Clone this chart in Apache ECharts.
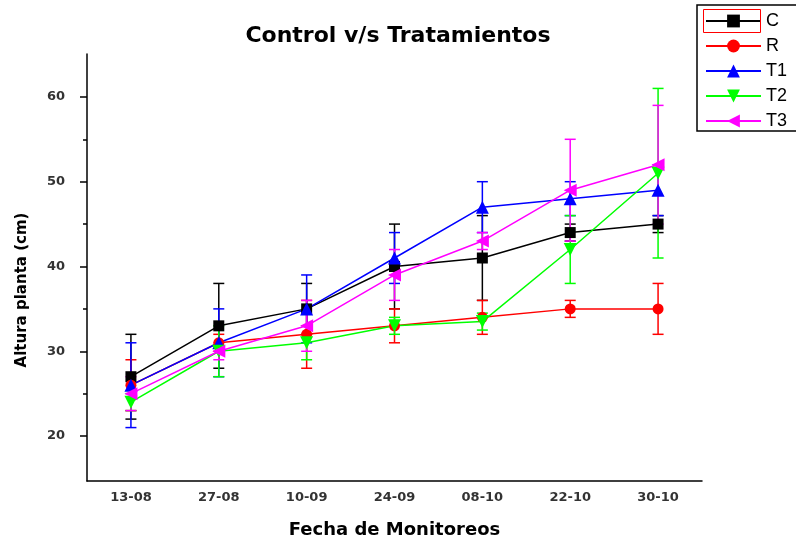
<!DOCTYPE html>
<html>
<head>
<meta charset="utf-8">
<script src="https://cdn.jsdelivr.net/npm/echarts@6/dist/echarts.min.js"></script>
<style>html,body{margin:0;padding:0;background:#fff}#c{width:796px;height:544px}</style>
</head>
<body>
<div id="c"></div>
<script>
var categories = ['13-08','27-08','10-09','24-09','08-10','22-10','30-10'];
var yMajorTicks = [20,30,40,50,60];
var yMinorTicks = [25,35,45,55];

var seriesNames = ['C','R','T1','T2','T3'];
var meanC  = [27, 33, 35, 40, 41, 44, 45];
var errC   = [5, 5, 3, 5, 5, 1, 1];
var meanR  = [26, 31, 32, 33, 34, 35, 35];
var errR   = [3, 1, 4, 2, 2, 1, 3];
var meanT1 = [26, 31, 35, 41, 47, 48, 49];
var errT1  = [5, 4, 4, 3, 3, 2, 3];
var meanT2 = [24, 30, 31, 33, 33.5, 42, 51];
var errT2  = [1, 3, 2, 1, 1, 4, 10];
var meanT3 = [25, 30, 33, 39, 43, 49, 52];
var errT3  = [2, 1, 3, 3, 1, 6, 7];

var means = [meanC, meanR, meanT1, meanT2, meanT3];
var errs = [errC, errR, errT1, errT2, errT3];
var colors = ['#000000','#ff0000','#0000ff','#00ff00','#ff00ff'];
var symbols = ['rect','circle','triangle','triangle','triangle'];
var rotates = [0, 0, 0, 180, 90];
var sizes = [11, 11, 13, 13, 13];

var chart = echarts.init(document.getElementById('c'));
var series = [];
for (var s = 0; s < 5; s++) {
  (function(s){
    var errData = means[s].map(function(v, i){ return [i, v - errs[s][i], v + errs[s][i]]; });
    series.push({
      type: 'custom',
      name: seriesNames[s] + '_err',
      xAxisIndex: 0, yAxisIndex: 0,
      data: errData,
      silent: true,
      renderItem: function(params, api){
        var x = api.value(0);
        var lo = api.coord([x, api.value(1)]);
        var hi = api.coord([x, api.value(2)]);
        var w = 5.5;
        var st = {stroke: colors[s], lineWidth: 1.5};
        return {type: 'group', children: [
          {type:'line', shape:{x1:lo[0],y1:lo[1],x2:hi[0],y2:hi[1]}, style:st},
          {type:'line', shape:{x1:lo[0]-w,y1:lo[1],x2:lo[0]+w,y2:lo[1]}, style:st},
          {type:'line', shape:{x1:hi[0]-w,y1:hi[1],x2:hi[0]+w,y2:hi[1]}, style:st}
        ]};
      }
    });
    series.push({
      type: 'line',
      name: seriesNames[s],
      xAxisIndex: 0, yAxisIndex: 0,
      data: means[s],
      symbol: symbols[s],
      symbolSize: sizes[s],
      symbolRotate: rotates[s],
      color: colors[s],
      lineStyle: {color: colors[s], width: 1.5},
      itemStyle: {color: colors[s]},
      animation: false
    });
  })(s);
}

var wideFont = 'DejaVu Sans, Verdana, sans-serif';
var axisLabelStyle = {color: '#333', fontSize: 13, fontWeight: 'bold', fontFamily: wideFont};

chart.setOption({
  animation: false,
  backgroundColor: '#fff',
  title: {
    text: 'Control v/s Tratamientos',
    left: 'center', top: 20,
    textStyle: {fontSize: 22, fontWeight: 'bold', color: '#000', fontFamily: wideFont}
  },
  legend: {
    orient: 'vertical',
    left: 697, top: 5,
    padding: [7, 40, 1, 8],
    borderColor: '#000', borderWidth: 1.5,
    itemWidth: 55, itemHeight: 16, itemGap: 7,
    data: seriesNames,
    textStyle: {fontSize: 18, lineHeight: 16, color: '#000', fontFamily: 'Liberation Sans, Arial, sans-serif'}
  },
  graphic: [
    {type: 'rect', shape: {x: 703.5, y: 9.5, width: 57, height: 23}, style: {fill: 'none', stroke: '#ff0000', lineWidth: 1}, z: 100},
    {type: 'text', x: 22, y: 290, rotation: Math.PI/2,
     style: {text: 'Altura planta (cm)', fontSize: 15, fontWeight: 'bold', fill: '#000', align: 'center', verticalAlign: 'middle', fontFamily: wideFont}}
  ],
  grid: {left: 87, right: 94, top: 54, bottom: 62},
  xAxis: [
    {
      type: 'category', data: categories, boundaryGap: true,
      name: 'Fecha de Monitoreos', nameLocation: 'middle', nameGap: 40,
      nameTextStyle: {fontSize: 18, fontWeight: 'bold', color: '#000', fontFamily: wideFont},
      axisLine: {lineStyle: {color: '#000', width: 1.5}},
      axisTick: {alignWithLabel: true, length: 7, lineStyle: {color: '#000', width: 1.5}},
      axisLabel: Object.assign({margin: 10}, axisLabelStyle),
      splitLine: {show: false}
    },
    {
      type: 'category', data: categories, boundaryGap: true, position: 'bottom',
      axisLine: {show: false},
      axisTick: {length: 4, lineStyle: {color: '#000', width: 1.5}},
      axisLabel: {show: false},
      splitLine: {show: false}
    }
  ],
  yAxis: [
    {
      type: 'value', min: 14.7, max: 65.06,
      axisLine: {show: true, lineStyle: {color: '#000', width: 1.5}},
      axisTick: {show: true, length: 7, customValues: yMajorTicks, lineStyle: {color: '#000', width: 1.5}},
      axisLabel: Object.assign({customValues: yMajorTicks, margin: 22}, axisLabelStyle),
      splitLine: {show: false}
    },
    {
      type: 'value', min: 14.7, max: 65.06, position: 'left',
      axisLine: {show: false},
      axisTick: {show: true, length: 4, customValues: yMinorTicks, lineStyle: {color: '#000', width: 1.5}},
      axisLabel: {show: false},
      splitLine: {show: false}
    }
  ],
  series: series
});
</script>
</body>
</html>
